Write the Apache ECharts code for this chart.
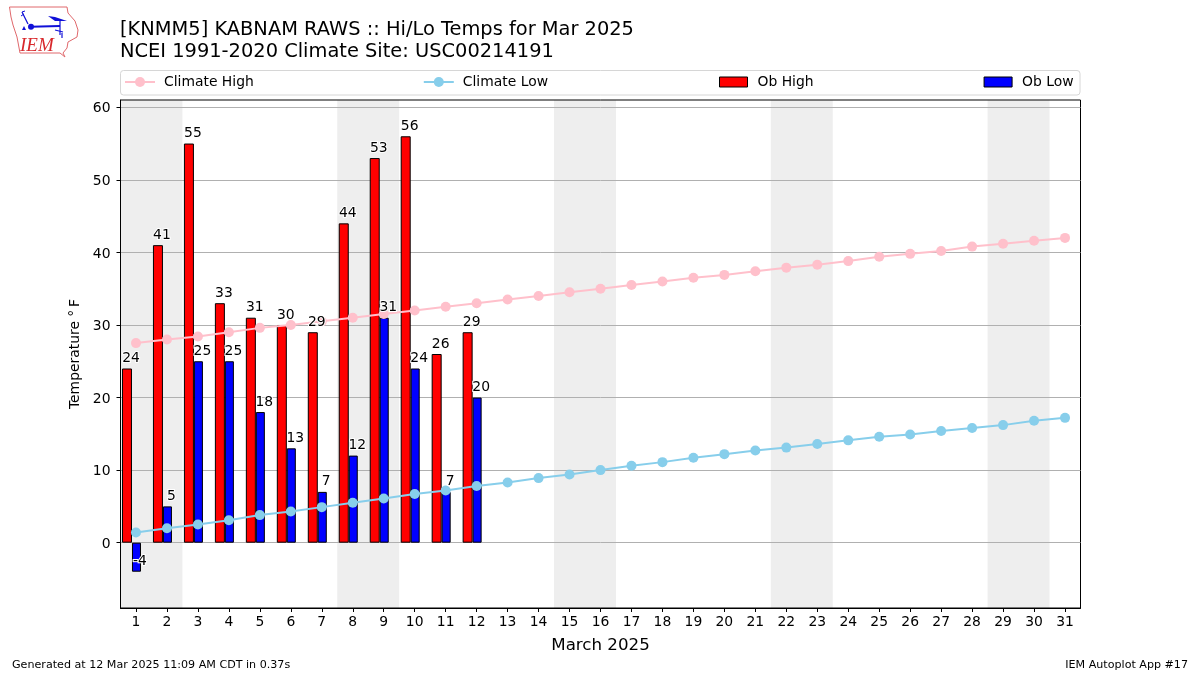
<!DOCTYPE html>
<html>
<head>
<meta charset="utf-8">
<style>html,body{margin:0;padding:0;background:#fff}#c{width:1200px;height:675px}</style>
<script src="https://cdn.jsdelivr.net/npm/echarts@6/dist/echarts.min.js"></script>
</head>
<body>
<div id="c"></div>
<script>
const days = ['1','2','3','4','5','6','7','8','9','10','11','12','13','14','15','16','17','18','19','20','21','22','23','24','25','26','27','28','29','30','31'];
const climateHigh = [27.5,28,28.4,29,29.6,30,30.5,31,31.5,32,32.5,33,33.5,34,34.5,35,35.5,36,36.5,36.9,37.4,37.9,38.3,38.8,39.4,39.8,40.2,40.8,41.2,41.6,42];
const climateLow = [1.4,2,2.5,3.1,3.8,4.3,4.9,5.5,6.1,6.7,7.2,7.8,8.3,8.9,9.4,10,10.6,11.1,11.7,12.2,12.7,13.1,13.6,14.1,14.6,14.9,15.4,15.8,16.2,16.8,17.2];
const obHigh = [24,41,55,33,31,30,29,44,53,56,26,29];
const obLow = [-4,5,25,25,18,13,7,12,31,24,7,20];
const yTicks = [0,10,20,30,40,50,60];
const weekendStart = [0.5,7.5,14.5,21.5,28.5];
const weekendEnd = [2.5,9.5,16.5,23.5,30.5];

const FONT = 'DejaVu Sans';
const barLabel = {
  show: true, position: 'top', distance: 3, offset: [4, 0],
  fontFamily: FONT, fontSize: 13.9, color: '#000',
  textBorderColor: '#fff', textBorderWidth: 2
};
function barData(vals) {
  return vals.map(v => v < 0
    ? { value: v, label: { position: 'insideBottom', distance: 3, offset: [3.5, 0] } }
    : v);
}
const lineStyleFor = c => ({
  type: 'line', xAxisIndex: 0, yAxisIndex: 0, symbol: 'circle', symbolSize: 10,
  lineStyle: { color: c, width: 2 }, itemStyle: { color: c }, z: 5, silent: true
});
const hiddenBar = { color: 'transparent', borderWidth: 0 };
const LOGO_RED = '#e0686c', LOGO_BLUE = '#1010d8';
const legendText = { fontFamily: FONT, fontSize: 13.9, color: '#000', padding: [0, 0, 0, 4] };

const option = {
  animation: false,
  backgroundColor: '#fff',
  title: {
    left: 120, top: 19, padding: 0,
    text: '[KNMM5] KABNAM RAWS :: Hi/Lo Temps for Mar 2025\nNCEI 1991-2020 Climate Site: USC00214191',
    textStyle: { fontFamily: FONT, fontSize: 19.42, fontWeight: 'normal', color: '#000', lineHeight: 22 }
  },
  legend: [{
    left: 124, top: 75, padding: 0, itemGap: 169, itemWidth: 30, itemHeight: 12.5,
    data: ['Climate High', 'Climate Low'], textStyle: legendText
  }, {
    left: 719, top: 75, padding: 0, itemGap: 170, itemWidth: 28, itemHeight: 10,
    itemStyle: { borderColor: '#000', borderWidth: 1 },
    data: [{ name: 'Ob High', icon: 'rect' }, { name: 'Ob Low', icon: 'rect' }],
    textStyle: Object.assign({}, legendText, { padding: [0, 0, 0, 5] })
  }],
  grid: {
    left: 120.5, right: 119.5, top: 100, bottom: 67, show: true,
    borderColor: '#000', borderWidth: 1, backgroundColor: 'transparent', containLabel: false
  },
  xAxis: [{
    type: 'category', data: days, boundaryGap: true,
    name: 'March 2025', nameLocation: 'middle', nameGap: 29,
    nameTextStyle: { fontFamily: FONT, fontSize: 16.67, color: '#000' },
    axisLine: { onZero: false, lineStyle: { color: '#000', width: 1 } },
    axisTick: { show: true, alignWithLabel: true, length: 4, lineStyle: { color: '#000' } },
    axisLabel: { interval: 0, fontFamily: FONT, fontSize: 13.9, color: '#000', margin: 7 },
    splitLine: { show: false }
  }, {
    type: 'value', min: 0.5, max: 31.5, show: false, splitLine: { show: false }
  }, {
    type: 'category', data: days, boundaryGap: true, show: false, splitLine: { show: false }
  }],
  yAxis: [{
    type: 'value', min: -9, max: 61,
    name: 'Temperature\u00a0°\u2009F', nameLocation: 'middle', nameGap: 37, nameRotate: 90,
    nameTextStyle: { fontFamily: FONT, fontSize: 13.9, color: '#000' },
    axisLine: { show: true, onZero: false, lineStyle: { color: '#000', width: 1 } },
    axisTick: { show: true, length: 4, customValues: yTicks, lineStyle: { color: '#000' } },
    axisLabel: { customValues: yTicks, fontFamily: FONT, fontSize: 13.9, color: '#000', margin: 10, verticalAlign: 'top', lineHeight: 3 },
    splitLine: { show: true, lineStyle: { color: '#b0b0b0', width: 1 } }
  }],
  series: [
    {
      name: 'Weekend', type: 'line', xAxisIndex: 1, yAxisIndex: 0, data: [], silent: true, z: -1,
      markArea: {
        silent: true, z: -1,
        itemStyle: { color: '#eeeeee' },
        data: weekendStart.map((s, i) => [{ xAxis: s }, { xAxis: weekendEnd[i] }])
      }
    },
    {
      name: 'Ob High', type: 'bar', data: obHigh, barWidth: 10, barGap: 0, z: 3,
      itemStyle: { color: '#ff0000', borderColor: '#000', borderWidth: 1 }
    },
    {
      name: 'Ob Low', type: 'bar', data: obLow, barWidth: 9, barGap: 0, z: 3,
      itemStyle: { color: '#0000ff', borderColor: '#000', borderWidth: 1 }
    },
    { name: 'spacer', type: 'bar', data: days.map(() => null), barWidth: 9, barGap: 0, silent: true },
    Object.assign(lineStyleFor('#ffc0cb'), { name: 'Climate High', data: climateHigh }),
    Object.assign(lineStyleFor('#87ceeb'), { name: 'Climate Low', data: climateLow }),
    {
      name: 'Ob High labels', type: 'bar', xAxisIndex: 2, yAxisIndex: 0, data: barData(obHigh),
      barWidth: 10, barGap: 0, z: 8, silent: true, itemStyle: hiddenBar, label: barLabel
    },
    {
      name: 'Ob Low labels', type: 'bar', xAxisIndex: 2, yAxisIndex: 0, data: barData(obLow),
      barWidth: 9, barGap: 0, z: 8, silent: true, itemStyle: hiddenBar, label: barLabel
    },
    { name: 'spacer labels', type: 'bar', xAxisIndex: 2, yAxisIndex: 0, data: days.map(() => null), barWidth: 9, barGap: 0, silent: true }
  ],
  graphic: [
    { type: 'rect', shape: { x: 120.5, y: 70.5, width: 959.5, height: 24.5, r: 3 }, style: { fill: '#fff', stroke: '#d6d6d6', lineWidth: 1 } },
    { type: 'text', left: 12, top: 660, style: { text: 'Generated at 12 Mar 2025 11:09 AM CDT in 0.37s', font: '11.11px "DejaVu Sans"', fill: '#000' } },
    { type: 'text', right: 12, top: 660, style: { text: 'IEM Autoplot App #17', font: '11.11px "DejaVu Sans"', fill: '#000' } },
    { type: 'polygon', shape: { points: [[9.5,7],[67,7],[68,13],[75,21],[78,30],[77,37],[68,42],[67,48],[63,53],[65,57],[60,53],[20,53],[17,37],[13,25],[11,17]] }, style: { fill: '#fff', stroke: LOGO_RED, lineWidth: 1 } },
    { type: 'polyline', shape: { points: [[31,26.7],[60,26]] }, style: { stroke: LOGO_BLUE, lineWidth: 2, fill: 'none' } },
    { type: 'polyline', shape: { points: [[60,20.7],[60,35]] }, style: { stroke: LOGO_BLUE, lineWidth: 1.2, fill: 'none' } },
    { type: 'polyline', shape: { points: [[22,12],[28,24]] }, style: { stroke: LOGO_BLUE, lineWidth: 1.2, fill: 'none' } },
    { type: 'polyline', shape: { points: [[22,12],[25,11]] }, style: { stroke: LOGO_BLUE, lineWidth: 1, fill: 'none' } },
    { type: 'polyline', shape: { points: [[21,16],[24,14]] }, style: { stroke: LOGO_BLUE, lineWidth: 1, fill: 'none' } },
    { type: 'polyline', shape: { points: [[55,30],[63,32]] }, style: { stroke: LOGO_BLUE, lineWidth: 1.2, fill: 'none' } },
    { type: 'polyline', shape: { points: [[62,33],[62,38]] }, style: { stroke: LOGO_BLUE, lineWidth: 1.2, fill: 'none' } },
    { type: 'circle', shape: { cx: 31, cy: 26.7, r: 3 }, style: { fill: LOGO_BLUE } },
    { type: 'polygon', shape: { points: [[24,26],[26,30],[22,30]] }, style: { fill: LOGO_BLUE } },
    { type: 'polygon', shape: { points: [[48,16],[55,17],[67,21],[55,21]] }, style: { fill: LOGO_BLUE } },
    { type: 'text', left: 20, top: 36, style: { text: 'IEM', font: 'italic 19px "Liberation Serif"', fill: '#d8282c' } }
  ]
};
const chart = echarts.init(document.getElementById('c'), null, { renderer: 'canvas' });
chart.setOption(option);
</script>
</body>
</html>
